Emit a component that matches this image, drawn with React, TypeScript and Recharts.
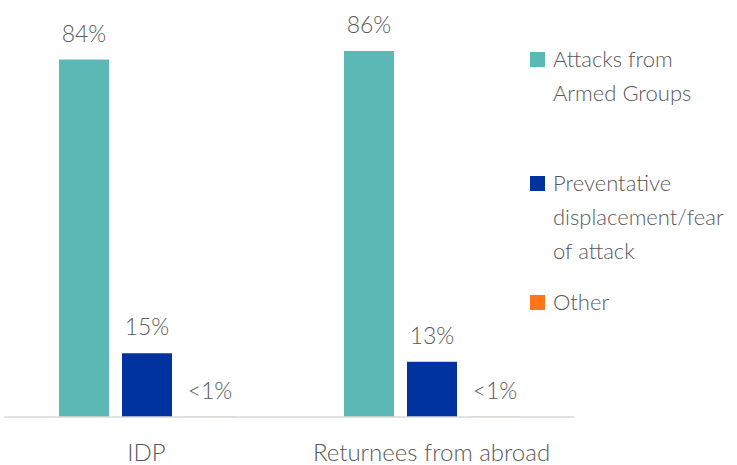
import React from "react";
import { BarChart, Bar, XAxis, YAxis, LabelList } from "recharts";

const categories = ["IDP", "Returnees from abroad"];
const attacks = [84, 86];
const preventative = [15, 13];
const other = [0.03, 0.03];

const seriesNames = ["Attacks from Armed Groups", "Preventative displacement/fear of attack", "Other"];
const legendLines = [["Attacks from", "Armed Groups"], ["Preventative", "displacement/fear", "of attack"], ["Other"]];
const seriesColors = ["#5CB8B4", "#0033A0", "#FF7518"];

const data = categories.map((c, i) => ({
  category: c,
  attacks: attacks[i],
  preventative: preventative[i],
  other: other[i],
}));

const FONT = "Lato, 'Open Sans', sans-serif";
const TEXT = "#595959";

const fmt = (v: any) => (Number(v) < 1 ? "<1%" : `${v}%`);

const itemGaps = [0, 56, 17];

function LegendBox() {
  return (
    <div
      style={{
        position: "absolute",
        left: 530,
        top: 42,
        fontFamily: FONT,
        fontWeight: 300,
        fontSize: 22,
        color: TEXT,
        lineHeight: "34px",
      }}
    >
      {legendLines.map((lines, i) => (
        <div key={i} style={{ display: "flex", alignItems: "flex-start", marginTop: itemGaps[i] }}>
          <div style={{ width: 15, height: 15, background: seriesColors[i], marginTop: 10, marginRight: 8, flexShrink: 0 }} />
          <div>
            {lines.map((l, j) => (
              <div key={j} style={{ whiteSpace: "nowrap" }}>{l}</div>
            ))}
          </div>
        </div>
      ))}
    </div>
  );
}

export default function App() {
  const keys = ["attacks", "preventative", "other"];
  return (
    <div style={{ position: "absolute", left: 0, top: 0, width: 737, height: 465, background: "#fff" }}>
      <BarChart
        width={737}
        height={465}
        data={data}
        margin={{ top: 34, right: 163, left: 4, bottom: 0 }}
        barGap={13}
        barSize={50}
      >
        <XAxis
          dataKey="category"
          axisLine={{ stroke: "#D9D9D9", strokeWidth: 1.5 }}
          tickLine={false}
          tickSize={0}
          tickMargin={27}
          height={48}
          tick={{ fill: TEXT, fontSize: 24, fontFamily: FONT, fontWeight: 300 }}
        />
        <YAxis hide domain={[0, 90]} />
        {keys.map((k, i) => (
          <Bar key={k} dataKey={k} name={seriesNames[i]} fill={seriesColors[i]} isAnimationActive={false}>
            <LabelList
              dataKey={k}
              position="top"
              offset={18}
              formatter={fmt}
              style={{ fill: TEXT, fontSize: 23, fontFamily: FONT, fontWeight: 300 }}
            />
          </Bar>
        ))}
      </BarChart>
      <LegendBox />
    </div>
  );
}
